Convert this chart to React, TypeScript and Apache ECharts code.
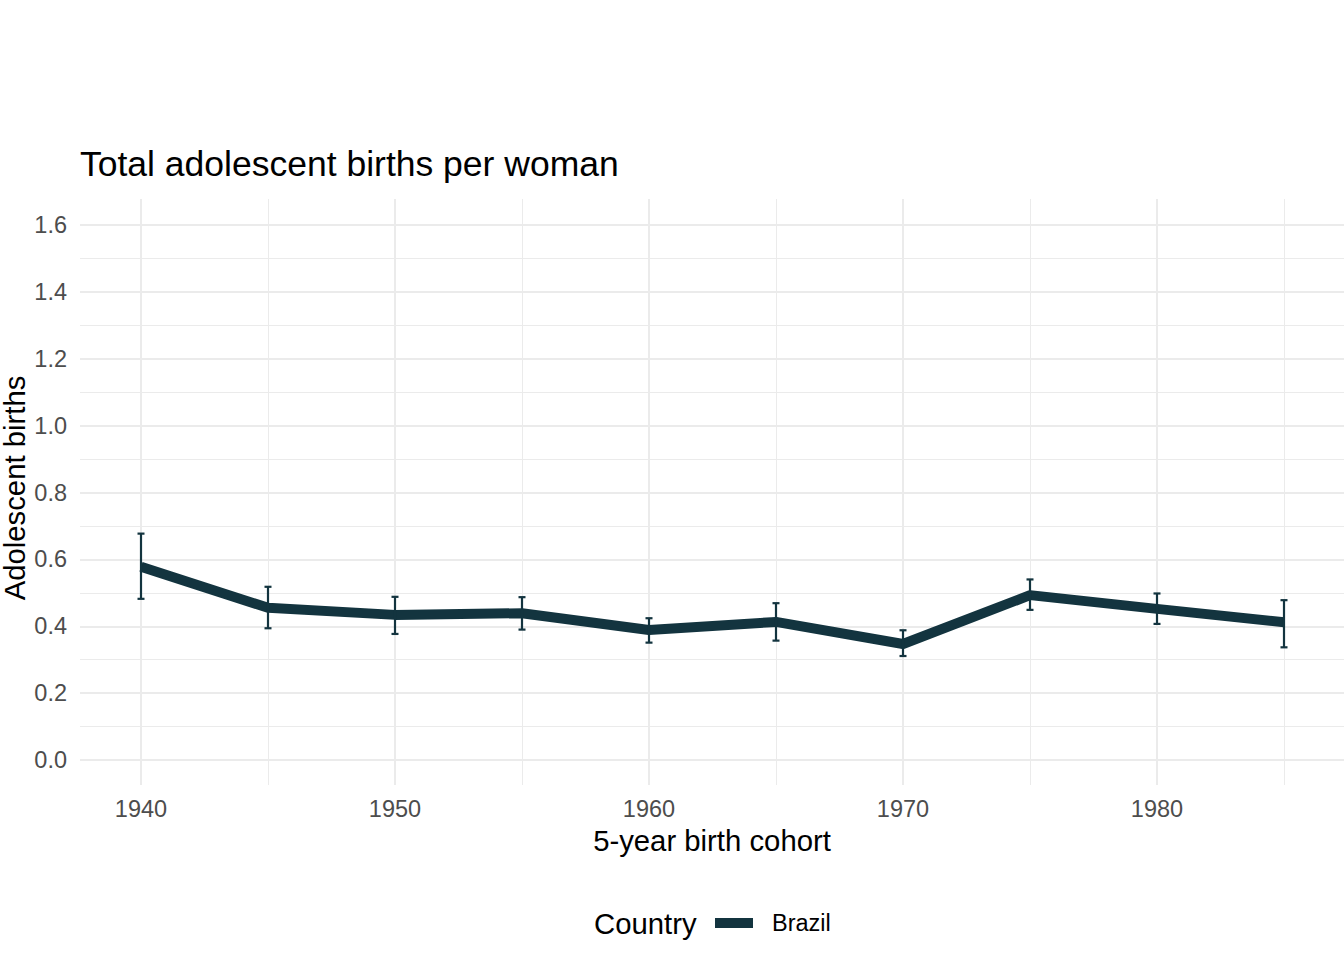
import React, { useEffect, useRef } from "react";
import * as echarts from "echarts";

const years = [1940, 1945, 1950, 1955, 1960, 1965, 1970, 1975, 1980, 1985];
const births = [0.578, 0.455, 0.434, 0.439, 0.389, 0.413, 0.347, 0.493, 0.452, 0.412];
const lower = [0.482, 0.394, 0.377, 0.39, 0.351, 0.357, 0.311, 0.449, 0.407, 0.337];
const upper = [0.677, 0.518, 0.488, 0.487, 0.424, 0.469, 0.388, 0.54, 0.498, 0.478];
const countryName = "Brazil";

const FONT = '"Liberation Sans", Arial, Helvetica, sans-serif';
const LINE_COLOR = "#13343f";
const GRID_COLOR = "#ebebeb";

export default function App() {
  const ref = useRef<HTMLDivElement>(null);

  useEffect(() => {
    if (!ref.current) return;
    const chart = echarts.init(ref.current, undefined, { renderer: "svg" });

    const lineData = years.map((y, i) => [y, births[i]]);
    const errData = years.map((y, i) => [y, lower[i], upper[i]]);

    const option: any = {
      animation: false,
      backgroundColor: "#ffffff",
      textStyle: { fontFamily: FONT },
      title: {
        text: "Total adolescent births per woman",
        left: 80,
        top: 144,
        padding: 0,
        textStyle: {
          fontFamily: FONT,
          fontSize: 35.5,
          fontWeight: "normal",
          color: "#000000",
          lineHeight: 40,
        },
      },
      legend: {
        left: 715,
        top: 911,
        padding: 0,
        itemWidth: 38,
        itemHeight: 10,
        data: [{ name: countryName, icon: "rect" }],
        textStyle: {
          fontFamily: FONT,
          fontSize: 23.5,
          color: "#000000",
          lineHeight: 24,
          padding: [0, 0, 0, 14],
        },
        selectedMode: false,
      },
      graphic: [
        {
          type: "text",
          left: 594,
          top: 923 - 15,
          style: {
            text: "Country",
            fontFamily: FONT,
            fontSize: 29.3,
            fill: "#000000",
            lineHeight: 30,
          },
        },
        {
          type: "text",
          x: 712,
          y: 840,
          style: {
            text: "5-year birth cohort",
            fontFamily: FONT,
            fontSize: 29.3,
            fill: "#000000",
            align: "center",
            verticalAlign: "middle",
          },
        },
        {
          type: "text",
          x: 14,
          y: 488,
          rotation: Math.PI / 2,
          style: {
            text: "Adolescent births",
            fontFamily: FONT,
            fontSize: 29.3,
            lineHeight: 28,
            fill: "#000000",
            align: "center",
            verticalAlign: "middle",
          },
        },
      ],
      grid: [
        { left: 141, right: 60, top: 225, bottom: 200 },
        { left: 80, right: 0, top: 225, bottom: 200 },
        { left: 80, right: 0, top: 225, bottom: 200 },
        { left: 141, right: 60, top: 199, bottom: 175 },
        { left: 141, right: 60, top: 199, bottom: 175 },
      ],
      xAxis: [
        { gridIndex: 0, type: "value", min: 1940, max: 1985, show: false },
        { gridIndex: 1, type: "value", min: 0, max: 1, show: false },
        { gridIndex: 2, type: "value", min: 0, max: 1, show: false },
        {
          gridIndex: 3,
          type: "value",
          min: 1940,
          max: 1985,
          interval: 10,
          axisLine: { show: false },
          axisTick: { show: false },
          axisLabel: {
            margin: 12,
            fontFamily: FONT,
            fontSize: 23.5,
            color: "#4d4d4d",
            showMaxLabel: false,
            formatter: (v: number) => (v % 10 !== 0 ? "" : String(v)),
          },
          splitLine: {
            show: true,
            showMaxLine: false,
            lineStyle: { color: GRID_COLOR, width: 2 },
          },
        },
        {
          gridIndex: 4,
          type: "value",
          min: 1940,
          max: 1985,
          interval: 5,
          axisLine: { show: false },
          axisTick: { show: false },
          axisLabel: { show: false },
          splitLine: { show: true, lineStyle: { color: GRID_COLOR, width: 1 } },
        },
      ],
      yAxis: [
        { gridIndex: 0, type: "value", min: 0, max: 1.6, show: false },
        {
          gridIndex: 1,
          type: "value",
          min: 0,
          max: 1.6,
          interval: 0.2,
          axisLine: { show: false },
          axisTick: { show: false },
          axisLabel: {
            margin: 13,
            fontFamily: FONT,
            fontSize: 23.5,
            color: "#4d4d4d",
            formatter: (v: number) => v.toFixed(1),
          },
          splitLine: { show: true, lineStyle: { color: GRID_COLOR, width: 2 } },
        },
        {
          gridIndex: 2,
          type: "value",
          min: 0,
          max: 1.6,
          interval: 0.1,
          axisLine: { show: false },
          axisTick: { show: false },
          axisLabel: { show: false },
          splitLine: { show: true, lineStyle: { color: GRID_COLOR, width: 1 } },
        },
        { gridIndex: 3, type: "value", min: 0, max: 1, show: false },
        { gridIndex: 4, type: "value", min: 0, max: 1, show: false },
      ],
      series: [
        {
          name: countryName,
          type: "line",
          xAxisIndex: 0,
          yAxisIndex: 0,
          data: lineData,
          showSymbol: false,
          symbol: "none",
          clip: false,
          z: 5,
          itemStyle: { color: LINE_COLOR },
          lineStyle: { color: LINE_COLOR, width: 10, cap: "butt", join: "round" },
        },
        {
          name: countryName + " error",
          type: "custom",
          xAxisIndex: 0,
          yAxisIndex: 0,
          data: errData,
          clip: false,
          z: 6,
          encode: { x: 0, y: [1, 2] },
          renderItem: (params: any, api: any) => {
            const x = api.value(0);
            const lo = api.coord([x, api.value(1)]);
            const hi = api.coord([x, api.value(2)]);
            const hw = 3.5;
            const style = { stroke: LINE_COLOR, lineWidth: 2.2, fill: "none" };
            return {
              type: "group",
              children: [
                { type: "line", shape: { x1: lo[0], y1: lo[1], x2: hi[0], y2: hi[1] }, style },
                { type: "line", shape: { x1: hi[0] - hw, y1: hi[1], x2: hi[0] + hw, y2: hi[1] }, style },
                { type: "line", shape: { x1: lo[0] - hw, y1: lo[1], x2: lo[0] + hw, y2: lo[1] }, style },
              ],
            };
          },
        },
      ],
    };

    chart.setOption(option);
    return () => chart.dispose();
  }, []);

  return (
    <div
      ref={ref}
      style={{ position: "fixed", left: 0, top: 0, width: 1344, height: 960, background: "#fff" }}
    />
  );
}
